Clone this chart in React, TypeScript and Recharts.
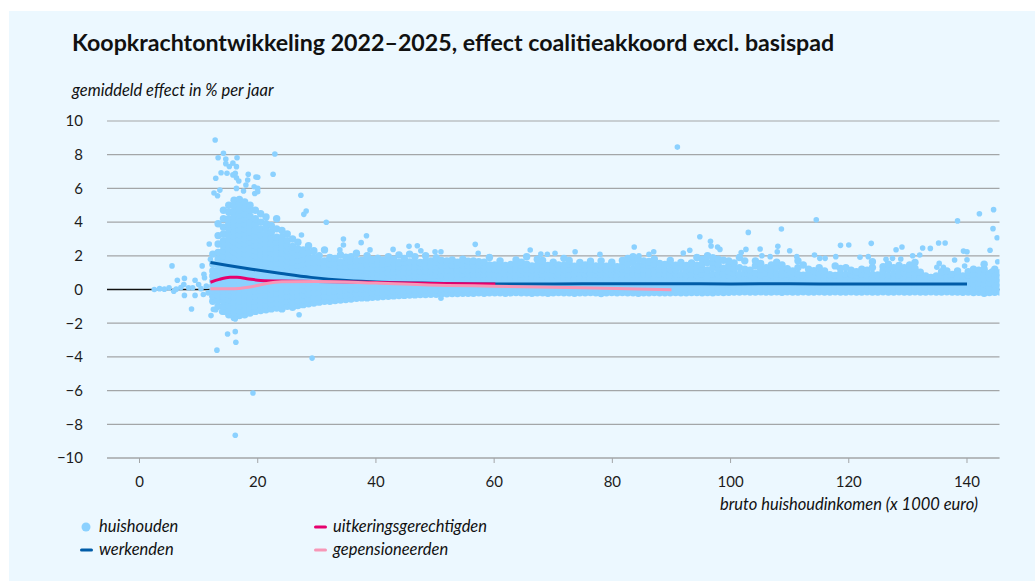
import { CartesianGrid, ComposedChart, Line, Scatter, XAxis, YAxis } from 'recharts';

const xTicks = [0, 20, 40, 60, 80, 100, 120, 140];
const yTicks = [-10, -8, -6, -4, -2, 0, 2, 4, 6, 8, 10];

// lijnen: [inkomen, effect]
const werkenden = [[12, 1.6], [15, 1.42], [19, 1.2], [24, 0.95], [29, 0.72], [35, 0.53], [41, 0.43], [50, 0.37], [60, 0.33], [70, 0.33], [80, 0.34], [90, 0.34], [100, 0.33], [110, 0.34], [120, 0.32], [130, 0.32], [140, 0.32]];
const uitkering = [[12, 0.43], [13.5, 0.6], [15.3, 0.72], [16.5, 0.72], [18.5, 0.62], [20.5, 0.54], [24, 0.5], [30, 0.48], [40, 0.42], [50, 0.36], [60.2, 0.33]];
const gepensioneerden = [[12, 0.05], [15.3, 0.04], [18.7, 0.15], [21.5, 0.36], [24, 0.46], [30, 0.48], [40, 0.38], [52, 0.24], [60, 0.2], [75, 0.1], [90, -0.02]];
const nullijn = [[-5.5, 0], [145.5, 0]];

const uitschieters = [
  [12.8, 8.87], [14.2, 8.08], [13.3, 7.82], [14.6, 7.74], [16.5, 7.82], [14.6, 7.47], [15.2, 7.3], [15.8, 7.5], [16.4, 7.29], [13.8, 6.93], [14.8, 6.9], [16.2, 6.9], [15.8, 6.8], [16.4, 6.63], [16.8, 6.44], [12.9, 6.6], [18.4, 6.84], [19.7, 6.68], [20, 6.66], [18.3, 6.5], [18, 6.2], [19.4, 6.1], [20, 6], [16.4, 6], [17.6, 5.85], [12.6, 5.73], [13.6, 5.9], [13.2, 5.56], [19.5, 5.7], [20, 5.8], [22.9, 8.04], [22.6, 6.84], [27.3, 5.59], [28.2, 4.66], [27.8, 4.46], [31.6, 3.99], [27.4, 3.23], [34.5, 3], [38.4, 3.19], [37.5, 2.78], [34.5, 2.64], [33.9, 2.35], [39, 2.35], [42.9, 2.38], [45.6, 2.56], [47, 2.6], [50, 2.24], [51, 2.24], [47.6, 2.3],
  [27, -1.5], [14.9, -2.64], [16.2, -2.5], [16.3, -3.13], [51, -0.52], [13.1, -3.6], [19.2, -6.14], [16.2, -8.65], [29.2, -4.07], [8.8, -1.16], [12.1, -1.55], [12.5, -1.18], [12.9, -1.2], [13.9, -1.32], [15.9, -1.71], [16.2, -1.75],
  [11.8, 2.7], [12, 1.79], [10.6, 1.4], [7.6, 0.66], [9.4, 0.55], [10.9, 0.9], [11, 0.7], [7.6, -0.35], [9.4, -0.35], [10.8, -0.3], [6.2, 0.02], [7, 0.12], [8.3, 0.1], [9, 0.1], [10, 0.3], [10.4, 0.05], [11.3, 0.2], [11.6, -0.2], [5, 0.1], [5.8, -0.1], [4.2, 0.02], [2.5, 0], [3.4, 0.05], [6.4, 0.55], [5.5, 1.4], [7.5, 0.3],
  [91, 8.45], [56.8, 2.68], [57.3, 2.15], [66.1, 2.34], [73.7, 2.24], [83.7, 2.52], [87, 2.24], [94.8, 3.13], [96.6, 2.86], [96.7, 2.58], [97.8, 2.52], [98.2, 2.38], [103, 3.39], [93.1, 2.33], [92, 2.16], [102.6, 2.38], [101.8, 2.2], [67.9, 2.1], [69, 2.09], [70.3, 2.15], [77.9, 2.09], [84.5, 2], [86.2, 2.09],
  [114.5, 4.14], [108.6, 3.59], [138.4, 4.07], [142.1, 4.5], [144.5, 4.74], [144.4, 3.61], [145.1, 3.07], [143.9, 2.33], [118.6, 2.62], [120, 2.64], [123.8, 2.74], [128, 2.36], [129, 2.52], [132.5, 2.46], [133.8, 2.44], [135.2, 2.76], [136.3, 2.76], [139.4, 2.28], [140, 2.24], [105, 2.4], [108, 2.56], [107.9, 2.24], [110, 2.3], [105.3, 2], [106.7, 1.95], [111.2, 1.95], [114.2, 2.05], [115.1, 1.85], [116, 1.85], [117.8, 1.95], [121.9, 1.91], [123.3, 1.95], [126.3, 1.79], [127.4, 1.85], [128.8, 1.81], [130.8, 2], [132, 2.05], [137.9, 1.75], [140, 1.77], [135.3, 1.55], [134.9, 1.32], [136, 1.32], [139.6, 1.39], [144.2, 1.1], [145.2, 1.65],
];

// dichte band per inkomenskolom: [inkomen, effecten...]
const bandLaag = [
  [12.4, -0.7, -0.4, -0.1, 0.2, 0.5, 0.8, 1.1, 1.5, 2.1],
  [13.3, -1, -0.65, -0.35, -0.05, 0.25, 0.55, 0.85, 1.15, 1.45, 1.8, 2.2, 2.7, 3.2, 3.9],
  [14.2, -1.3, -1, -0.7, -0.4, -0.1, 0.2, 0.5, 0.8, 1.1, 1.4, 1.7, 2, 2.3, 2.6, 2.9, 3.3, 3.7, 4.2, 4.7],
  [15.1, -1.5, -1.2, -0.9, -0.6, -0.3, 0, 0.3, 0.6, 0.9, 1.2, 1.5, 1.8, 2.1, 2.4, 2.7, 3, 3.3, 3.6, 3.9, 4.2, 4.6, 5],
  [16, -1.6, -1.35, -1.05, -0.75, -0.45, -0.15, 0.15, 0.45, 0.75, 1.05, 1.35, 1.65, 1.95, 2.25, 2.55, 2.85, 3.15, 3.45, 3.75, 4.05, 4.35, 4.65, 4.95, 5.3],
  [16.9, -1.55, -1.25, -0.95, -0.65, -0.35, -0.05, 0.25, 0.55, 0.85, 1.15, 1.45, 1.75, 2.05, 2.35, 2.65, 2.95, 3.25, 3.55, 3.85, 4.15, 4.45, 4.75, 5.05, 5.35],
  [17.8, -1.5, -1.2, -0.9, -0.6, -0.3, 0, 0.3, 0.6, 0.9, 1.2, 1.5, 1.8, 2.1, 2.4, 2.7, 3, 3.3, 3.6, 3.9, 4.2, 4.5, 4.85, 5.2],
  [18.7, -1.4, -1.1, -0.8, -0.5, -0.2, 0.1, 0.4, 0.7, 1, 1.3, 1.6, 1.9, 2.2, 2.5, 2.8, 3.1, 3.4, 3.7, 4, 4.35, 4.7, 5],
  [19.6, -1.3, -1, -0.7, -0.4, -0.1, 0.2, 0.5, 0.8, 1.1, 1.4, 1.7, 2, 2.3, 2.6, 2.9, 3.2, 3.5, 3.85, 4.2, 4.7],
  [20.5, -1.25, -0.95, -0.65, -0.35, -0.05, 0.25, 0.55, 0.85, 1.15, 1.45, 1.75, 2.05, 2.35, 2.65, 2.95, 3.25, 3.6, 4, 4.5],
  [21.4, -1.2, -0.9, -0.6, -0.3, 0, 0.3, 0.6, 0.9, 1.2, 1.5, 1.8, 2.1, 2.4, 2.7, 3, 3.3, 3.6, 3.9, 4.3],
  [22.3, -1.15, -0.85, -0.55, -0.25, 0.05, 0.35, 0.65, 0.95, 1.25, 1.55, 1.85, 2.15, 2.45, 2.75, 3.05, 3.4, 3.8],
  [23.2, -1.1, -0.8, -0.5, -0.2, 0.1, 0.4, 0.7, 1, 1.3, 1.6, 1.9, 2.2, 2.5, 2.8, 3.1, 3.6, 4.2],
  [24.1, -1.15, -0.85, -0.55, -0.25, 0.05, 0.35, 0.65, 0.95, 1.25, 1.55, 1.85, 2.15, 2.45, 2.75, 3.1, 3.5],
  [25, -1, -0.7, -0.4, -0.1, 0.2, 0.5, 0.8, 1.1, 1.4, 1.7, 2, 2.3, 2.6, 2.9, 3.3],
  [25.9, -1.05, -0.75, -0.45, -0.15, 0.15, 0.45, 0.75, 1.05, 1.35, 1.65, 1.95, 2.25, 2.55, 3],
  [26.8, -0.95, -0.65, -0.35, -0.05, 0.25, 0.55, 0.85, 1.15, 1.45, 1.75, 2.05, 2.4, 2.8],
  [27.7, -0.9, -0.6, -0.3, 0, 0.3, 0.6, 0.9, 1.2, 1.5, 1.8, 2.1, 2.35],
  [28.6, -0.85, -0.55, -0.25, 0.05, 0.35, 0.65, 0.95, 1.25, 1.55, 1.85, 2.2, 2.6],
  [29.5, -0.8, -0.5, -0.2, 0.1, 0.4, 0.7, 1, 1.3, 1.6, 1.9, 2.3],
];
const bandMidden = [
  [30.4, -0.75, -0.45, -0.15, 0.15, 0.45, 0.75, 1.05, 1.35, 1.65, 2],
  [31.3, -0.7, -0.4, -0.1, 0.2, 0.5, 0.8, 1.1, 1.4, 1.7, 2.35],
  [32.2, -0.7, -0.42, -0.14, 0.14, 0.42, 0.7, 0.98, 1.26, 1.54, 1.9],
  [33.1, -0.65, -0.37, -0.09, 0.19, 0.47, 0.75, 1.03, 1.31, 1.59, 1.85],
  [34, -0.62, -0.34, -0.06, 0.22, 0.5, 0.78, 1.06, 1.34, 1.62, 2.05],
  [34.9, -0.6, -0.32, -0.04, 0.24, 0.52, 0.8, 1.08, 1.36, 1.64, 1.92],
  [35.8, -0.56, -0.28, 0, 0.28, 0.56, 0.84, 1.12, 1.4, 1.68, 1.95],
  [36.7, -0.52, -0.24, 0.04, 0.32, 0.6, 0.88, 1.16, 1.44, 1.72, 2.15],
  [37.6, -0.5, -0.22, 0.06, 0.34, 0.62, 0.9, 1.18, 1.46, 1.74],
  [38.5, -0.5, -0.22, 0.06, 0.34, 0.62, 0.9, 1.18, 1.46, 1.8, 2],
  [39.4, -0.46, -0.18, 0.1, 0.38, 0.66, 0.94, 1.22, 1.5, 1.78],
  [40.3, -0.45, -0.17, 0.11, 0.39, 0.67, 0.95, 1.23, 1.51, 1.86],
  [41.2, -0.42, -0.14, 0.14, 0.42, 0.7, 0.98, 1.26, 1.54, 1.75],
  [42.1, -0.4, -0.12, 0.16, 0.44, 0.72, 1, 1.28, 1.56, 1.95],
  [43, -0.38, -0.1, 0.18, 0.46, 0.74, 1.02, 1.3, 1.58, 1.8],
  [43.9, -0.36, -0.08, 0.2, 0.48, 0.76, 1.04, 1.32, 1.6, 2.05],
  [44.8, -0.35, -0.07, 0.21, 0.49, 0.77, 1.05, 1.33, 1.61, 1.85],
  [45.7, -0.33, -0.05, 0.23, 0.51, 0.79, 1.07, 1.35, 1.63, 2.1],
  [46.6, -0.32, -0.04, 0.24, 0.52, 0.8, 1.08, 1.36, 1.62, 1.95],
  [47.5, -0.3, -0.02, 0.26, 0.54, 0.82, 1.1, 1.38, 1.6],
  [48.4, -0.3, -0.02, 0.26, 0.54, 0.82, 1.1, 1.38, 1.66, 2],
  [49.3, -0.28, 0, 0.28, 0.56, 0.84, 1.12, 1.4, 1.7],
  [50.2, -0.28, 0, 0.28, 0.56, 0.84, 1.12, 1.4, 1.62, 1.88],
  [51.1, -0.25, 0.03, 0.31, 0.59, 0.87, 1.15, 1.43, 1.72],
  [52, -0.25, 0.03, 0.31, 0.59, 0.87, 1.15, 1.43, 1.7],
  [52.9, -0.24, 0.04, 0.32, 0.6, 0.88, 1.16, 1.44, 1.75],
  [53.8, -0.24, 0.04, 0.32, 0.6, 0.88, 1.16, 1.44, 1.62],
  [54.7, -0.22, 0.06, 0.34, 0.62, 0.9, 1.18, 1.46, 1.8],
  [55.6, -0.22, 0.06, 0.34, 0.62, 0.9, 1.18, 1.46, 1.68],
  [56.5, -0.22, 0.06, 0.34, 0.62, 0.9, 1.18, 1.44, 1.7],
  [57.4, -0.2, 0.08, 0.36, 0.64, 0.92, 1.2, 1.48, 1.65],
  [58.3, -0.22, 0.06, 0.34, 0.62, 0.9, 1.18, 1.42, 1.62],
  [59.2, -0.2, 0.08, 0.36, 0.64, 0.92, 1.2, 1.46, 1.9],
];
const bandRechts = [
  [60.1, -0.2, 0.08, 0.36, 0.64, 0.92, 1.2, 1.45], [61, -0.2, 0.06, 0.34, 0.62, 0.9, 1.18, 1.5, 1.7], [61.9, -0.22, 0.08, 0.36, 0.64, 0.92, 1.2, 1.42], [62.8, -0.2, 0.06, 0.34, 0.62, 0.9, 1.18, 1.48],
  [63.7, -0.18, 0.08, 0.36, 0.64, 0.92, 1.2, 1.46, 1.75], [64.6, -0.2, 0.06, 0.34, 0.62, 0.9, 1.18, 1.44, 1.62], [65.5, -0.2, 0.08, 0.36, 0.64, 0.92, 1.2, 1.5, 1.95], [66.4, -0.22, 0.06, 0.34, 0.62, 0.9, 1.18, 1.4],
  [67.3, -0.2, 0.08, 0.36, 0.64, 0.92, 1.2, 1.44, 1.8], [68.2, -0.2, 0.06, 0.34, 0.62, 0.9, 1.18, 1.48, 1.72], [69.1, -0.22, 0.08, 0.36, 0.64, 0.92, 1.2, 1.42], [70, -0.2, 0.06, 0.34, 0.62, 0.9, 1.18, 1.4, 1.62],
  [70.9, -0.18, 0.08, 0.36, 0.64, 0.92, 1.2, 1.46], [71.8, -0.2, 0.06, 0.34, 0.62, 0.9, 1.18, 1.44, 1.85], [72.7, -0.2, 0.08, 0.36, 0.64, 0.92, 1.2, 1.5, 1.72], [73.6, -0.22, 0.06, 0.34, 0.62, 0.9, 1.18, 1.38],
  [74.5, -0.2, 0.08, 0.36, 0.64, 0.92, 1.2, 1.42, 1.6], [75.4, -0.2, 0.06, 0.34, 0.62, 0.9, 1.18, 1.46], [76.3, -0.18, 0.08, 0.36, 0.64, 0.92, 1.2, 1.48, 1.68], [77.2, -0.2, 0.06, 0.34, 0.62, 0.9, 1.18, 1.4],
  [78.1, -0.24, 0.08, 0.36, 0.64, 0.92, 1.2, 1.44, 1.7], [79, -0.2, 0.06, 0.34, 0.62, 0.9, 1.18, 1.38], [79.9, -0.18, 0.08, 0.36, 0.64, 0.92, 1.2, 1.46, 1.62], [80.8, -0.2, 0.06, 0.34, 0.62, 0.9, 1.18, 1.36],
  [81.7, -0.18, 0.08, 0.36, 0.64, 0.92, 1.2, 1.42, 1.72], [82.6, -0.2, 0.06, 0.34, 0.62, 0.9, 1.14, 1.5, 1.85], [83.5, -0.2, 0.08, 0.36, 0.64, 0.92, 1.2, 1.6, 1.95], [84.4, -0.22, 0.06, 0.34, 0.62, 0.9, 1.18, 1.4, 1.78],
  [85.3, -0.2, 0.08, 0.36, 0.64, 0.92, 1.2, 1.5, 1.7], [86.2, -0.2, 0.06, 0.34, 0.62, 0.9, 1.1, 1.44, 1.66], [87.1, -0.18, 0.08, 0.36, 0.64, 0.92, 1.16, 1.5, 1.8], [88, -0.2, 0.06, 0.34, 0.62, 0.9, 1.2, 1.55],
  [88.9, -0.2, 0.08, 0.36, 0.64, 0.9, 1.15, 1.48], [89.8, -0.2, 0.06, 0.34, 0.62, 0.88, 1.18, 1.5, 1.72], [90.7, -0.18, 0.08, 0.36, 0.64, 0.92, 1.16, 1.44], [91.6, -0.2, 0.06, 0.34, 0.62, 0.9, 1.3, 1.6],
  [92.5, -0.2, 0.08, 0.36, 0.64, 0.88, 1.14, 1.42], [93.4, -0.18, 0.06, 0.34, 0.62, 0.9, 1.22, 1.58], [94.3, -0.18, 0.08, 0.36, 0.64, 0.88, 1.1, 1.44, 1.9], [95.2, -0.2, 0.06, 0.34, 0.62, 0.9, 1.2, 1.5, 1.8],
  [96.1, -0.18, 0.08, 0.36, 0.64, 0.88, 1.16, 1.6, 2], [97, -0.2, 0.06, 0.34, 0.62, 0.9, 1.3, 1.62, 1.88], [97.9, -0.16, 0.08, 0.36, 0.64, 0.9, 1.2, 1.5, 1.8], [98.8, -0.18, 0.06, 0.34, 0.62, 0.94, 1.26, 1.74], [99.7, -0.16, 0.08, 0.36, 0.64, 0.86, 1.1, 1.46, 1.7],
  [100.6, -0.15, 0.12, 0.4, 0.68, 0.96, 1.25, 1.58], [101.5, -0.15, 0.05, 0.33, 0.61, 0.89, 1.3, 1.9], [102.4, -0.14, 0.12, 0.4, 0.68, 0.96, 1.2, 1.7], [103.3, -0.15, 0.05, 0.33, 0.61, 0.89, 1.15],
  [104.2, -0.15, 0.12, 0.4, 0.68, 0.96, 1.4, 1.7], [105.1, -0.14, 0.05, 0.33, 0.61, 0.85, 1.2, 1.55], [106, -0.15, 0.12, 0.4, 0.68, 0.96, 1.3], [106.9, -0.15, 0.05, 0.33, 0.61, 0.89, 1.15, 1.45],
  [107.8, -0.14, 0.12, 0.4, 0.68, 0.92, 1.3, 1.62], [108.7, -0.16, 0.05, 0.33, 0.61, 0.85, 1.1, 1.45], [109.6, -0.14, 0.12, 0.4, 0.68, 0.9, 1.24], [110.5, -0.15, 0.05, 0.33, 0.61, 0.82, 1.1],
  [111.4, -0.15, 0.12, 0.4, 0.68, 0.9, 1.3, 1.7], [112.3, -0.14, 0.05, 0.33, 0.61, 0.85, 1.45], [113.2, -0.15, 0.12, 0.4, 0.68, 0.92, 1.2], [114.1, -0.15, 0.05, 0.33, 0.61, 0.85, 1.12],
  [115, -0.14, 0.12, 0.4, 0.68, 0.94, 1.3], [115.9, -0.15, 0.05, 0.33, 0.61, 0.86, 1.1], [116.8, -0.15, 0.12, 0.4, 0.68, 0.88], [117.7, -0.14, 0.05, 0.33, 0.61, 0.84, 1.4],
  [118.6, -0.15, 0.12, 0.4, 0.68, 0.94, 1.25], [119.5, -0.15, 0.05, 0.33, 0.61, 0.9, 1.3], [120.4, -0.14, 0.12, 0.4, 0.68, 0.9, 1.15], [121.3, -0.15, 0.05, 0.33, 0.61, 0.85, 1.05],
  [122.2, -0.15, 0.12, 0.4, 0.68, 0.92, 1.2], [123.1, -0.14, 0.05, 0.33, 0.61, 0.88, 1.15], [124, -0.15, 0.12, 0.4, 0.68, 0.9, 1.3, 1.65], [124.9, -0.15, 0.05, 0.33, 0.61, 0.86],
  [125.8, -0.14, 0.12, 0.4, 0.68, 0.9, 1.1, 1.35], [126.7, -0.15, 0.05, 0.33, 0.61, 0.84, 1.2, 1.5], [127.6, -0.15, 0.12, 0.4, 0.68, 0.94, 1.3], [128.5, -0.14, 0.05, 0.33, 0.61, 0.85, 1.1, 1.42],
  [129.4, -0.15, 0.12, 0.4, 0.68, 1, 1.3], [130.3, -0.15, 0.05, 0.33, 0.61, 0.9, 1.2, 1.45], [131.2, -0.14, 0.12, 0.4, 0.66, 0.94, 1.25, 1.6], [132.1, -0.15, 0.05, 0.33, 0.58, 0.8, 1.02],
  [133, -0.15, 0.12, 0.38, 0.62, 0.8], [133.9, -0.14, 0.05, 0.3, 0.55, 0.72], [134.8, -0.15, 0.12, 0.38, 0.62, 0.8], [135.7, -0.15, 0.05, 0.33, 0.6, 0.86, 1.05],
  [136.6, -0.14, 0.12, 0.4, 0.68, 0.9, 1.1], [137.5, -0.15, 0.05, 0.33, 0.61, 0.9], [138.4, -0.15, 0.12, 0.4, 0.68, 0.95, 1.1], [139.3, -0.16, 0.05, 0.33, 0.55, 0.8],
  [140.2, -0.15, 0.12, 0.38, 0.62, 0.85, 1.05], [141.1, -0.18, 0.05, 0.33, 0.61, 0.9, 1.2], [142, -0.16, 0.12, 0.4, 0.68, 0.92, 1.15], [142.9, -0.22, 0.05, 0.33, 0.61, 0.88, 1.2, 1.5],
  [143.8, -0.18, 0.12, 0.4, 0.68, 0.95], [144.7, -0.16, 0.05, 0.33, 0.61, 0.9, 1.2], [145.6, -0.15, 0.12, 0.4, 0.68, 1],
];

const legendLinks = [['huishouden', 'dot', '#8bd1ff'], ['werkenden', 'line', '#005ca8']];
const legendRechts = [['uitkeringsgerechtigden', 'line', '#e6006e'], ['gepensioneerden', 'line', '#f797b7']];

const toPoints = (rows: number[][]) => rows.map(([x, y]) => ({ x, y }));
const fromColumns = (cols: number[][]) => cols.flatMap(([x, ...ys]) => ys.map((y) => ({ x, y })));
const bandPunten = [...fromColumns(bandLaag), ...fromColumns(bandMidden), ...fromColumns(bandRechts)];

const FONT = 'Lato, sans-serif';
const tickStyle = { fontFamily: FONT, fontSize: 15, fill: '#1c1c1c' };

const Label = ({ left, top, style, children }: any) => (
  <div style={{ position: 'absolute', left, top, fontFamily: FONT, color: '#111', whiteSpace: 'nowrap', ...style }}>{children}</div>
);

const LegendItem = ({ left, top, item }: any) => (
  <>
    <svg style={{ position: 'absolute', left, top }} width={20} height={14}>
      {item[1] === 'dot'
        ? <circle cx={10} cy={7} r={4.5} fill={item[2]} />
        : <rect x={4} y={5.5} width={13} height={3} rx={1.5} fill={item[2]} />}
    </svg>
    <Label left={left + 23} top={top - 4} style={{ fontSize: 16.5, fontStyle: 'italic' }}>{item[0]}</Label>
  </>
);

export default function App() {
  return (
    <div style={{ position: 'absolute', left: 0, top: 0, width: 1035, height: 581, background: '#fff', overflow: 'hidden' }}>
      <div style={{ position: 'absolute', left: 9, top: 11, width: 1026, height: 570, background: '#ecf8ff' }} />
      <Label left={72} top={28} style={{ fontSize: 23.2, fontWeight: 700 }}>Koopkrachtontwikkeling 2022–2025, effect coalitieakkoord excl. basispad</Label>
      <Label left={72} top={80} style={{ fontSize: 16.5, fontStyle: 'italic' }}>gemiddeld effect in % per jaar</Label>
      <div style={{ position: 'absolute', left: 0, top: 0 }}>
        <ComposedChart width={1035} height={581} margin={{ top: 121, right: 35.5, bottom: 93, left: 60 }}>
          <CartesianGrid horizontal vertical={false} stroke="#a3a6a8" strokeWidth={1.2} />
          <XAxis type="number" dataKey="x" domain={[-5.5, 145.5]} allowDataOverflow ticks={xTicks} height={30} stroke="#a3a6a8" tickSize={5} tickMargin={13} tick={tickStyle} interval={0} />
          <YAxis type="number" dataKey="y" domain={[-10, 10]} ticks={yTicks} width={47} axisLine={false} tickLine={false} tickSize={0} tickMargin={24} tick={tickStyle} interval={0} tickFormatter={(v: number) => String(v).replace('-', '−')} />
          <Line data={toPoints(nullijn)} dataKey="y" stroke="#111" strokeWidth={1.6} dot={false} legendType="none" isAnimationActive={false} />
          <Scatter data={bandPunten} dataKey="y" fill="#8bd1ff" shape={(p: any) => <circle cx={p.cx} cy={p.cy} r={3.7} fill="#8bd1ff" />} isAnimationActive={false} />
          <Scatter data={toPoints(uitschieters)} dataKey="y" fill="#8bd1ff" shape={(p: any) => <circle cx={p.cx} cy={p.cy} r={2.8} fill="#8bd1ff" />} isAnimationActive={false} />
          <Line data={toPoints(werkenden)} dataKey="y" type="monotone" stroke="#005ca8" strokeWidth={3} dot={false} isAnimationActive={false} zIndex={700} />
          <Line data={toPoints(uitkering)} dataKey="y" type="monotone" stroke="#e6006e" strokeWidth={3} dot={false} isAnimationActive={false} zIndex={700} />
          <Line data={toPoints(gepensioneerden)} dataKey="y" type="monotone" stroke="#f797b7" strokeWidth={3} dot={false} isAnimationActive={false} zIndex={700} />
        </ComposedChart>
      </div>
      <Label left={720} top={494} style={{ fontSize: 16.5, fontStyle: 'italic' }}>bruto huishoudinkomen (x 1000 euro)</Label>
      {legendLinks.map((item, i) => <LegendItem key={item[0]} left={76} top={520 + i * 23} item={item} />)}
      {legendRechts.map((item, i) => <LegendItem key={item[0]} left={310} top={520 + i * 23} item={item} />)}
    </div>
  );
}
